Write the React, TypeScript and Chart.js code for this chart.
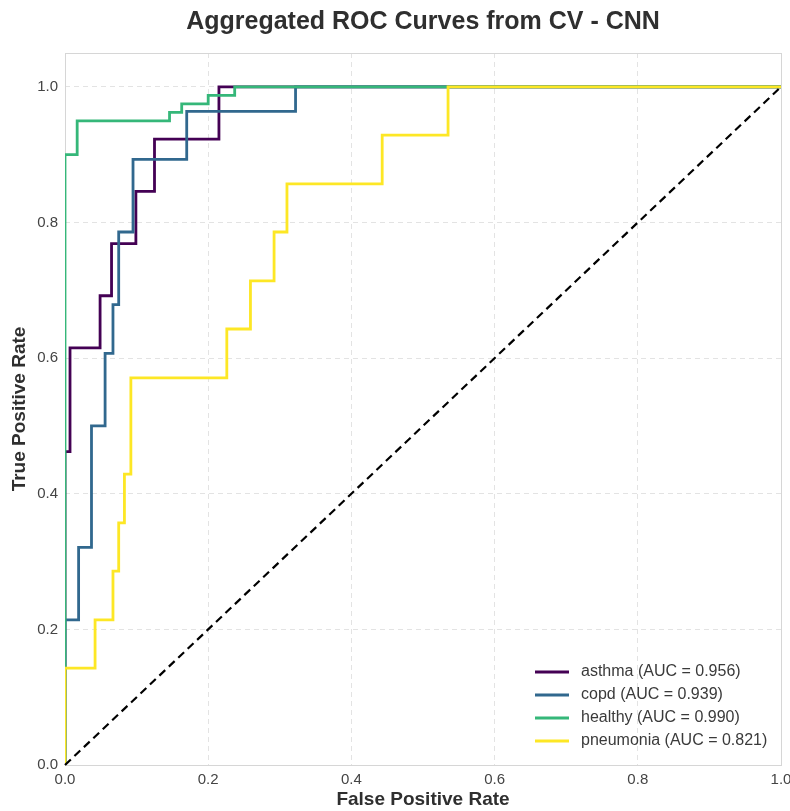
import React, { useEffect, useRef } from "react";
import { Chart, registerables } from "chart.js";

Chart.register(...registerables);

const TITLE = "Aggregated ROC Curves from CV - CNN";
const X_TITLE = "False Positive Rate";
const Y_TITLE = "True Positive Rate";
const TICKS = [0, 0.2, 0.4, 0.6, 0.8, 1.0];

const CLASS_NAMES = ["asthma", "copd", "healthy", "pneumonia"];
const AUC_VALUES = [0.956, 0.939, 0.99, 0.821];
const COLORS = ["#440154", "#31688e", "#35b779", "#fde725"];

const asthmaFpr = [0, 0, 0.007, 0.007, 0.049, 0.049, 0.065, 0.065, 0.099, 0.099, 0.125, 0.125, 0.215, 0.215, 1.0];
const asthmaTpr = [0, 0.462, 0.462, 0.615, 0.615, 0.692, 0.692, 0.769, 0.769, 0.846, 0.846, 0.923, 0.923, 1.0, 1.0];

const copdFpr = [0, 0, 0.019, 0.019, 0.037, 0.037, 0.056, 0.056, 0.067, 0.067, 0.075, 0.075, 0.095, 0.095, 0.17, 0.17, 0.322, 0.322, 1.0];
const copdTpr = [0, 0.214, 0.214, 0.321, 0.321, 0.5, 0.5, 0.607, 0.607, 0.679, 0.679, 0.786, 0.786, 0.893, 0.893, 0.964, 0.964, 1.0, 1.0];

const healthyFpr = [0, 0, 0.017, 0.017, 0.146, 0.146, 0.163, 0.163, 0.2, 0.2, 0.237, 0.237, 1.0];
const healthyTpr = [0, 0.9, 0.9, 0.95, 0.95, 0.9625, 0.9625, 0.975, 0.975, 0.9875, 0.9875, 1.0, 1.0];

const pneumoniaFpr = [0, 0, 0.042, 0.042, 0.067, 0.067, 0.075, 0.075, 0.083, 0.083, 0.092, 0.092, 0.226, 0.226, 0.259, 0.259, 0.292, 0.292, 0.31, 0.31, 0.443, 0.443, 0.535, 0.535, 1.0];
const pneumoniaTpr = [0, 0.143, 0.143, 0.214, 0.214, 0.286, 0.286, 0.357, 0.357, 0.429, 0.429, 0.571, 0.571, 0.643, 0.643, 0.714, 0.714, 0.786, 0.786, 0.857, 0.857, 0.929, 0.929, 1.0, 1.0];

const diagonalX = [0, 1];
const diagonalY = [0, 1];

const CURVES = [
  [asthmaFpr, asthmaTpr],
  [copdFpr, copdTpr],
  [healthyFpr, healthyTpr],
  [pneumoniaFpr, pneumoniaTpr],
];

const FONT = "'Liberation Sans', Arial, sans-serif";

const toPoints = (xs: number[], ys: number[]) => xs.map((x, i) => ({ x, y: ys[i] }));

const framePlugin = {
  id: "frameAndLegend",
  beforeDatasetsDraw(chart: any) {
    const { ctx, chartArea } = chart;
    ctx.save();
    ctx.strokeStyle = "#d6d6d6";
    ctx.lineWidth = 1;
    ctx.setLineDash([]);
    ctx.strokeRect(
      Math.round(chartArea.left) + 0.5,
      Math.round(chartArea.top) + 0.5,
      Math.round(chartArea.right - chartArea.left),
      Math.round(chartArea.bottom - chartArea.top)
    );
    ctx.restore();
  },
  afterDraw(chart: any) {
    const { ctx, chartArea } = chart;
    ctx.save();
    const lineLen = 34;
    const rowH = 23;
    const x0 = chartArea.right - 246;
    const yStart = chartArea.bottom - 93;
    ctx.font = `16px ${FONT}`;
    ctx.textBaseline = "middle";
    ctx.textAlign = "left";
    CLASS_NAMES.forEach((name, i) => {
      const y = yStart + i * rowH;
      ctx.strokeStyle = COLORS[i];
      ctx.lineWidth = 3;
      ctx.beginPath();
      ctx.moveTo(x0, y);
      ctx.lineTo(x0 + lineLen, y);
      ctx.stroke();
      ctx.fillStyle = "#3a3a3a";
      ctx.fillText(`${name} (AUC = ${AUC_VALUES[i].toFixed(3)})`, x0 + lineLen + 12, y);
    });
    ctx.restore();
  },
};

export default function App() {
  const canvasRef = useRef<HTMLCanvasElement | null>(null);

  useEffect(() => {
    if (!canvasRef.current) return;
    const datasets: any[] = CURVES.map(([xs, ys], i) => ({
      label: `${CLASS_NAMES[i]} (AUC = ${AUC_VALUES[i].toFixed(3)})`,
      data: toPoints(xs, ys),
      borderColor: COLORS[i],
      backgroundColor: COLORS[i],
      borderWidth: 2.8,
      pointRadius: 0,
      tension: 0,
      fill: false,
      clip: 0,
      order: 4 - i,
    }));
    datasets.push({
      label: "chance",
      data: toPoints(diagonalX, diagonalY),
      borderColor: "#000000",
      borderWidth: 2.2,
      borderDash: [8, 5],
      pointRadius: 0,
      fill: false,
      clip: 2,
      order: 0,
    });

    const setTicks = (scale: any) => {
      scale.ticks = TICKS.map((v) => ({ value: v }));
    };

    const chart = new Chart(canvasRef.current, {
      type: "line",
      data: { datasets },
      plugins: [framePlugin],
      options: {
        animation: false,
        responsive: false,
        devicePixelRatio: 1,
        layout: { padding: { left: 0, right: 9, top: 0, bottom: 0 } },
        plugins: {
          legend: { display: false },
          tooltip: { enabled: false },
          title: {
            display: true,
            text: TITLE,
            fullSize: false,
            color: "#2f2f2f",
            font: { family: FONT, size: 25, weight: "bold" },
            padding: { top: 7, bottom: 16 },
          },
        },
        scales: {
          x: {
            type: "linear",
            min: 0,
            max: 1,
            afterBuildTicks: setTicks,
            afterFit: (scale: any) => {
              scale.height = 46;
              scale.paddingLeft = 0;
              scale.paddingRight = 0;
            },
            ticks: {
              callback: (v: any) => Number(v).toFixed(1),
              color: "#444444",
              font: { family: FONT, size: 15 },
              padding: 6,
              maxRotation: 0,
            },
            grid: { color: "#e3e3e3", lineWidth: 1, drawTicks: false },
            border: { display: false, dash: [5, 4] },
            title: {
              display: true,
              text: X_TITLE,
              color: "#2f2f2f",
              font: { family: FONT, size: 19, weight: "bold" },
              padding: { top: 0, bottom: 0 },
            },
          },
          y: {
            type: "linear",
            min: 0,
            max: 1.05,
            afterBuildTicks: setTicks,
            afterFit: (scale: any) => {
              scale.width = 65;
              scale.paddingTop = 0;
              scale.paddingBottom = 0;
            },
            ticks: {
              callback: (v: any) => Number(v).toFixed(1),
              color: "#444444",
              font: { family: FONT, size: 15 },
              padding: 7,
            },
            grid: { color: "#e3e3e3", lineWidth: 1, drawTicks: false },
            border: { display: false, dash: [5, 4] },
            title: {
              display: true,
              text: Y_TITLE,
              color: "#2f2f2f",
              font: { family: FONT, size: 19, weight: "bold" },
              padding: { top: 8, bottom: 0 },
            },
          },
        },
      },
    });
    return () => chart.destroy();
  }, []);

  return (
    <div style={{ position: "fixed", left: 0, top: 0, width: 790, height: 811, background: "#ffffff" }}>
      <canvas ref={canvasRef} width={790} height={811} style={{ display: "block" }} />
    </div>
  );
}
